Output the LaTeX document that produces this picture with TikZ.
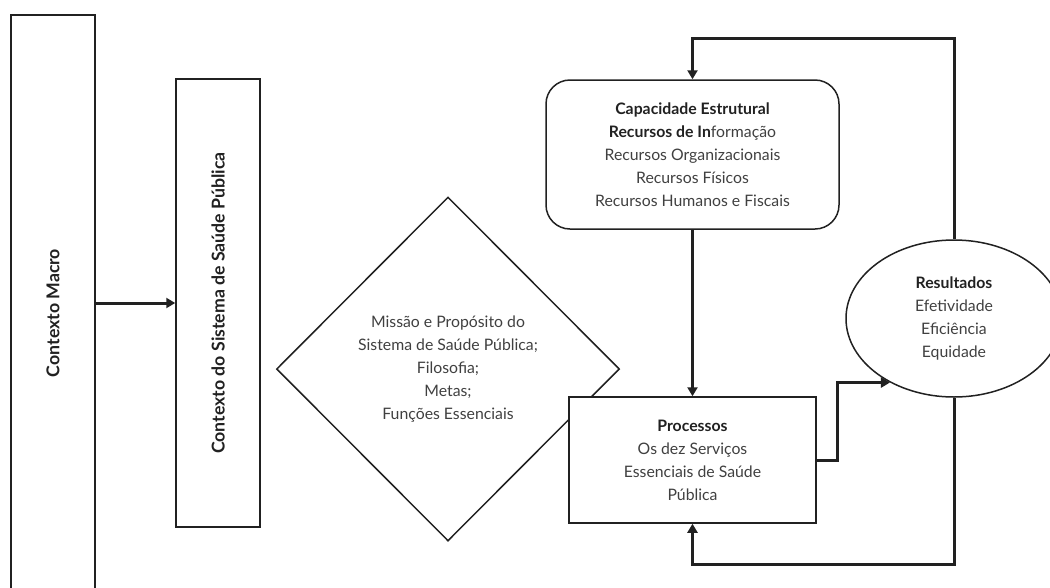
\documentclass[tikz,border=0pt]{standalone}
\usepackage{fontspec}
\setmainfont{Lato}
\usetikzlibrary{arrows.meta}
\usetikzlibrary{positioning}
\usetikzlibrary{shapes.geometric}
\definecolor{tinta}{rgb}{0.13, 0.13, 0.13}
\definecolor{texto}{rgb}{0.25, 0.25, 0.25}
\tikzset{caixa/.style = {draw = tinta, line width = 1.5, inner sep = 0, text = texto, align = center,
    font = \fontsize{15.8}{23}\selectfont}}
\tikzset{seta/.style = {draw = tinta, line width = 3, -{Triangle[length = 9, width = 10]}}}

\begin{document}
\begin{tikzpicture}[x = 1pt, y = -1pt]
          \clip (0, 0) rectangle (1050, 587);

          \node [caixa, minimum width = 84, minimum height = 596] (macro) at (53, 313)
            {\rotatebox{90}{\fontsize{17.7}{20}\selectfont\textcolor{tinta}{\bfseries Contexto Macro}}};
          \node [caixa, minimum width = 84, minimum height = 448] (sistema) at (218, 303)
            {\rotatebox{90}{\fontsize{17.7}{20}\selectfont\textcolor{tinta}{\bfseries Contexto do Sistema de Saúde Pública}}};
          \node [caixa, diamond, minimum width = 343, minimum height = 344] (missao) at (448, 369)
            {Missão e Propósito do\\ Sistema de Saúde Pública;\\ Filosofia;\\ Metas;\\ Funções Essenciais};
          \node [caixa, rounded corners = 24, minimum width = 293, minimum height = 149] (capacidade) at (692.5, 154.5)
            {\textcolor{tinta}{\bfseries Capacidade Estrutural}\\
             \textcolor{tinta}{\bfseries Recursos de In}formação\\
             Recursos Organizacionais\\ Recursos Físicos\\ Recursos Humanos e Fiscais};
          \node [caixa, fill = white, minimum width = 247, minimum height = 126] (processos) at (692.5, 460)
            {\textcolor{tinta}{\bfseries Processos}\\ Os dez Serviços\\ Essenciais de Saúde\\ Pública};
          \node [caixa, ellipse, minimum width = 216, minimum height = 157] (resultados) at (954, 318.5)
            {\textcolor{tinta}{\bfseries Resultados}\\ Efetividade\\ Eficiência\\ Equidade};

          \draw [seta] (macro.east |- sistema.west) -- (sistema.west);
          \draw [seta] (capacidade.south) -- (processos.north);
          \draw [seta] (processos.east) -- ++(21, 0) |- (resultados.225);
          \draw [seta] (resultados.north) |- ([yshift = 41pt] capacidade.north) -- (capacidade.north);
          \draw [seta] (resultados.south) |- ([yshift = -41pt] processos.south) -- (processos.south);
        \end{tikzpicture}
\end{document}
